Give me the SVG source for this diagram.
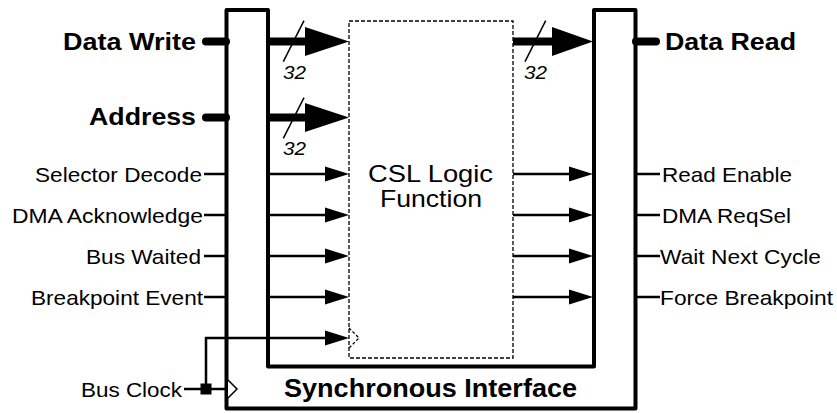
<svg xmlns="http://www.w3.org/2000/svg" width="837" height="413" viewBox="0 0 837 413">
<style>
text{font-family:"Liberation Sans",Arial,Helvetica,sans-serif;fill:#000}
.big{font-size:24px;font-weight:bold}
.sm{font-size:21px}
.w{font-size:19px;font-style:italic}
.frame{fill:none;stroke:#000;stroke-width:4;stroke-linejoin:round}
.dash{fill:#fff;stroke:#000;stroke-width:1.3;stroke-dasharray:4,2}
.thin{stroke:#000;stroke-width:2.5;fill:none}
.bus{stroke:#000;stroke-width:8;fill:none}
.busr{stroke:#000;stroke-width:8;fill:none;stroke-linecap:round}
.sl{stroke:#000;stroke-width:1.5}
.ah{fill:#000}
</style>
<rect width="837" height="413" fill="#fff"/>
<g id="sync-interface">
<path class="frame" d="M226.5,10 H268 V366.5 H594 V10 H635.5 V408.5 H226.5 Z"/>
<text class="big" x="284" y="397" textLength="293" lengthAdjust="spacingAndGlyphs" style="font-size:26px">Synchronous Interface</text>
<path d="M228,380 L237,389 L228,398" fill="#fff" stroke="#000" stroke-width="1.5"/>
</g>
<g id="csl-logic">
<rect class="dash" x="349" y="21" width="164" height="337"/>
<path d="M349,328 L359,338 L349,348" fill="none" stroke="#000" stroke-width="1.3" stroke-dasharray="3,2"/>
<text class="sm" x="368" y="182" textLength="125" lengthAdjust="spacingAndGlyphs" style="font-size:24px">CSL Logic</text>
<text class="sm" x="380" y="207" textLength="102" lengthAdjust="spacingAndGlyphs" style="font-size:24px">Function</text>
</g>
<g id="inputs">
<text class="big" x="63" y="49.5" textLength="133" lengthAdjust="spacingAndGlyphs">Data Write</text>
<text class="big" x="89" y="125" textLength="107" lengthAdjust="spacingAndGlyphs">Address</text>
<text class="sm" x="35" y="181.5" textLength="167" lengthAdjust="spacingAndGlyphs">Selector Decode</text>
<text class="sm" x="12" y="222.5" textLength="191" lengthAdjust="spacingAndGlyphs">DMA Acknowledge</text>
<text class="sm" x="86" y="263.5" textLength="115" lengthAdjust="spacingAndGlyphs">Bus Waited</text>
<text class="sm" x="31" y="304.5" textLength="172" lengthAdjust="spacingAndGlyphs">Breakpoint Event</text>
<text class="sm" x="81" y="396.5" textLength="101" lengthAdjust="spacingAndGlyphs">Bus Clock</text>
</g>
<g id="outputs">
<text class="big" x="665" y="49.5" textLength="131" lengthAdjust="spacingAndGlyphs">Data Read</text>
<text class="sm" x="662" y="181.5" textLength="130" lengthAdjust="spacingAndGlyphs">Read Enable</text>
<text class="sm" x="662" y="222.5" textLength="129" lengthAdjust="spacingAndGlyphs">DMA ReqSel</text>
<text class="sm" x="660" y="263.5" textLength="161" lengthAdjust="spacingAndGlyphs">Wait Next Cycle</text>
<text class="sm" x="660" y="304.5" textLength="173" lengthAdjust="spacingAndGlyphs">Force Breakpoint</text>
</g>
<g id="connectors">
<line class="busr" x1="206" y1="41.5" x2="226" y2="41.5"/>
<line class="busr" x1="206" y1="117.5" x2="226" y2="117.5"/>
<line class="busr" x1="636" y1="41.5" x2="656" y2="41.5"/>
<line class="bus" x1="268" y1="41.5" x2="310" y2="41.5"/>
<polygon class="ah" points="305,27 349,41.5 305,56"/>
<line class="bus" x1="268" y1="117.5" x2="310" y2="117.5"/>
<polygon class="ah" points="305,103 349,117.5 305,132"/>
<line class="bus" x1="513" y1="41.5" x2="556" y2="41.5"/>
<polygon class="ah" points="552,27 593,41.5 552,56"/>
<line class="sl" x1="283.3" y1="61.7" x2="304" y2="20.7"/>
<line class="sl" x1="283.3" y1="138.3" x2="304" y2="97.7"/>
<line class="sl" x1="525" y1="61.7" x2="545.7" y2="20.7"/>
<text class="w" x="283" y="79" textLength="23" lengthAdjust="spacingAndGlyphs">32</text>
<text class="w" x="283" y="155" textLength="23" lengthAdjust="spacingAndGlyphs">32</text>
<text class="w" x="524" y="79" textLength="23" lengthAdjust="spacingAndGlyphs">32</text>
<g class="thin">
<line x1="204" y1="174" x2="227" y2="174"/>
<line x1="204" y1="215" x2="227" y2="215"/>
<line x1="204" y1="256" x2="227" y2="256"/>
<line x1="204" y1="297" x2="227" y2="297"/>
<line x1="268" y1="174" x2="330" y2="174"/>
<line x1="268" y1="215" x2="330" y2="215"/>
<line x1="268" y1="256" x2="330" y2="256"/>
<line x1="268" y1="297" x2="330" y2="297"/>
<line x1="513" y1="174" x2="574" y2="174"/>
<line x1="513" y1="215" x2="574" y2="215"/>
<line x1="513" y1="256" x2="574" y2="256"/>
<line x1="513" y1="297" x2="574" y2="297"/>
<line x1="635" y1="174" x2="660" y2="174"/>
<line x1="635" y1="215" x2="660" y2="215"/>
<line x1="635" y1="256" x2="660" y2="256"/>
<line x1="635" y1="297" x2="660" y2="297"/>
<line x1="184" y1="389" x2="227" y2="389"/>
<polyline points="206,389 206,338 330,338"/>
</g>
<polygon class="ah" points="325,166.5 349,174 325,181.5"/>
<polygon class="ah" points="325,207.5 349,215 325,222.5"/>
<polygon class="ah" points="325,248.5 349,256 325,263.5"/>
<polygon class="ah" points="325,289.5 349,297 325,304.5"/>
<polygon class="ah" points="325,330.5 349,338 325,345.5"/>
<polygon class="ah" points="569,166.5 593,174 569,181.5"/>
<polygon class="ah" points="569,207.5 593,215 569,222.5"/>
<polygon class="ah" points="569,248.5 593,256 569,263.5"/>
<polygon class="ah" points="569,289.5 593,297 569,304.5"/>
<rect x="200.5" y="383.5" width="11" height="11" fill="#000"/>
</g>
</svg>
